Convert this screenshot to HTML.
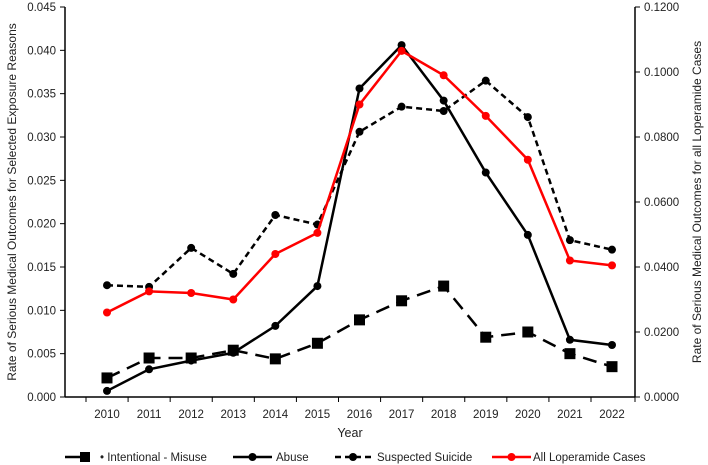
<!DOCTYPE html>
<html><head><style>
body{margin:0;background:#fff;}
svg{font-family:"Liberation Sans",sans-serif;display:block}
</style></head><body>
<svg id="c" width="708" height="465"></svg>
<script>
const years=["2010","2011","2012","2013","2014","2015","2016","2017","2018","2019","2020","2021","2022"];
const misuse=[0.0022,0.0045,0.0045,0.0054,0.0044,0.0062,0.0089,0.0111,0.0128,0.0069,0.0075,0.0050,0.0035];
const abuse=[0.0007,0.0032,0.0042,0.0051,0.0082,0.0128,0.0356,0.0406,0.0342,0.0259,0.0187,0.0066,0.0060];
const suicide=[0.0129,0.0127,0.0172,0.0142,0.0210,0.0199,0.0306,0.0335,0.0330,0.0365,0.0323,0.0181,0.0170];
const allCases=[0.026,0.0325,0.032,0.030,0.044,0.0505,0.090,0.1065,0.099,0.0865,0.073,0.042,0.0405];
const leftTicks=["0.000","0.005","0.010","0.015","0.020","0.025","0.030","0.035","0.040","0.045"];
const rightTicks=["0.0000","0.0200","0.0400","0.0600","0.0800","0.1000","0.1200"];
const NS="http://www.w3.org/2000/svg";
const svg=document.getElementById('c');
const L=65,R=635,T=7,B=397;
const x=i=>107+i*(612-107)/12;
const yL=v=>B-(v/0.045)*(B-T);
const yR=v=>B-(v/0.12)*(B-T);
function el(t,a,p){const e=document.createElementNS(NS,t);for(const k in a)e.setAttribute(k,a[k]);(p||svg).appendChild(e);return e;}
let e=el('line',{x1:L,y1:T,x2:L,y2:B,stroke:'#000','stroke-width':1.5});

e=el('line',{x1:R,y1:T,x2:R,y2:B,stroke:'#000','stroke-width':1.5});

e=el('line',{x1:L,y1:B,x2:R,y2:B,stroke:'#000','stroke-width':1.5});

leftTicks.forEach(t=>{const y=yL(+t);el('line',{x1:L-5,y1:y,x2:L,y2:y,stroke:'#000'});
 const tx=el('text',{x:L-9,y:y+4,'text-anchor':'end','font-size':11.5,fill:'#222'});tx.textContent=t;
 });
rightTicks.forEach(t=>{const y=yR(+t);el('line',{x1:R,y1:y,x2:R+5,y2:y,stroke:'#000'});
 const tx=el('text',{x:R+9,y:y+4,'font-size':11.5,fill:'#222'});tx.textContent=t;
 });
years.forEach((yy,i)=>{const xx=x(i)-21;el('line',{x1:xx,y1:B,x2:xx,y2:B+5,stroke:'#000'});
 const tx=el('text',{x:x(i),y:B+21,'text-anchor':'middle','font-size':11.5,fill:'#222'});tx.textContent=yy;
 });
el('line',{x1:R,y1:B,x2:R,y2:B+5,stroke:'#000'});
e=el('text',{x:350,y:437,'text-anchor':'middle','font-size':12.5,fill:'#222'});e.textContent='Year';

e=el('text',{x:0,y:0,'text-anchor':'middle','font-size':12,fill:'#222',transform:`translate(16,${(T+B)/2}) rotate(-90)`});
e.textContent='Rate of Serious Medical Outcomes for Selected Exposure Reasons';

e=el('text',{x:0,y:0,'text-anchor':'middle','font-size':12,fill:'#222',transform:`translate(701,${(T+B)/2}) rotate(-90)`});
e.textContent='Rate of Serious Medical Outcomes for all Loperamide Cases';

function series(vals,ys,color,dash,marker,name){
 const g=el('g',{});
 el('polyline',{points:vals.map((v,i)=>x(i)+','+ys(v)).join(' '),fill:'none',stroke:color,'stroke-width':2.5,'stroke-dasharray':dash},g);
 vals.forEach((v,i)=>{let m;if(marker==='sq')m=el('rect',{x:x(i)-5.5,y:ys(v)-5.5,width:11,height:11,fill:color},g);
  else m=el('circle',{cx:x(i),cy:ys(v),r:4,fill:color},g);
  });
}
series(misuse,yL,'#000','14,8','sq','intentional-misuse-series');
series(abuse,yL,'#000','','c','abuse-series');
series(suicide,yL,'#000','6,4','c','suspected-suicide-series');
series(allCases,yR,'#f00','','c','all-loperamide-series');
const LY=457;
const leg=[[65,25,'','sq','#000','• Intentional - Misuse',100],[233,39,'','c','#000','Abuse',276],[335,36,'6,4','c','#000','Suspected Suicide',377],[492,39,'','c','#f00','All Loperamide Cases',533]];
leg.forEach(([lx,w,d,m,c,t,tx0])=>{const g=el('g',{});
 el('line',{x1:lx,y1:LY,x2:lx+w,y2:LY,stroke:c,'stroke-width':2.5,'stroke-dasharray':d},g);
 const mx=m==='sq'?lx+w-5:lx+w*0.5;
 if(m==='sq')el('rect',{x:mx-5,y:LY-5,width:10,height:10,fill:c},g);else el('circle',{cx:mx,cy:LY,r:4,fill:c},g);
 const tx=el('text',{x:tx0,y:LY+4,'font-size':11.5,fill:'#222'},g);tx.textContent=t;});
</script>
</body></html>
